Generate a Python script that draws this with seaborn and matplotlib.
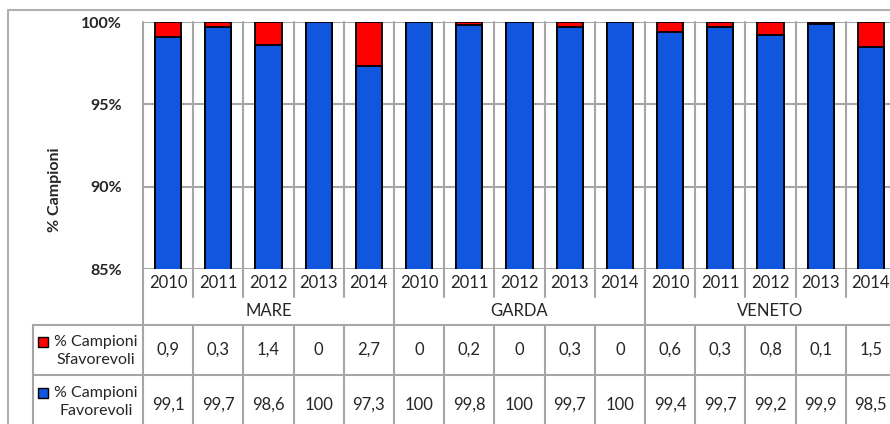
import numpy as np
import pandas as pd
import matplotlib.pyplot as plt
import seaborn as sns
from matplotlib.transforms import blended_transform_factory
from matplotlib.patches import Rectangle
from matplotlib.lines import Line2D

# Data
groups = ["MARE", "GARDA", "VENETO"]
years = ["2010", "2011", "2012", "2013", "2014"]
sfavorevoli = [0.9, 0.3, 1.4, 0, 2.7, 0, 0.2, 0, 0.3, 0, 0.6, 0.3, 0.8, 0.1, 1.5]
favorevoli = [99.1, 99.7, 98.6, 100, 97.3, 100, 99.8, 100, 99.7, 100,
              99.4, 99.7, 99.2, 99.9, 98.5]

RED = "#FF0000"
BLUE = "#1056DE"
GRID = "#A6A6A6"
FS = 12

sns.set_style("white")
plt.rcParams["font.family"] = ["Lato", "DejaVu Sans"]

keys = [f"{g} {y}" for g in groups for y in years]
df = pd.DataFrame({
    "key": keys,
    "fav": favorevoli,
    "tot": np.array(favorevoli) + np.array(sfavorevoli),
})

fig = plt.figure(figsize=(8.9, 4.24), dpi=100)
ax = fig.add_axes([143 / 890, 1 - 269 / 424, 753 / 890, 247 / 424])

# stacked bars: total (red) underneath, favorevoli (blue) on top
sns.barplot(data=df, x="key", y="tot", order=keys, color=RED, saturation=1,
            width=0.52, edgecolor="black", linewidth=1.3, ax=ax, zorder=3)
sns.barplot(data=df, x="key", y="fav", order=keys, color=BLUE, saturation=1,
            width=0.52, edgecolor="black", linewidth=1.3, ax=ax, zorder=4)

n = len(keys)
ax.set_xlim(-0.5, n - 0.5)
ax.set_ylim(85, 100)
ax.set_yticks([85, 90, 95, 100])
ax.set_yticklabels(["85%", "90%", "95%", "100%"], fontsize=11.5, fontweight="bold")
ax.tick_params(axis="y", length=0, pad=15)
ax.set_xticks([])
ax.set_xlabel("")
ax.set_ylabel("")
for s in ax.spines.values():
    s.set_visible(False)

for yv in [85, 90, 95, 100]:
    ax.axhline(yv, color=GRID, lw=1.5, zorder=1)

tr = blended_transform_factory(ax.transData, ax.transAxes)
lw = 1.5

# vertical lines: plot + year row, and data rows
for k in range(n + 1):
    xb = k - 0.5
    ax.add_line(Line2D([xb, xb], [-0.115, 1], transform=tr, color=GRID, lw=lw,
                       clip_on=False, zorder=1))
    ax.add_line(Line2D([xb, xb], [-0.227, -0.7], transform=tr, color=GRID, lw=lw,
                       clip_on=False, zorder=1))
# group separators
for xb in [-0.5, 4.5, 9.5]:
    ax.add_line(Line2D([xb, xb], [-0.115, -0.227], transform=tr, color=GRID, lw=lw,
                       clip_on=False, zorder=1))

# horizontal table lines
for yv in [-0.227, -0.429]:
    ax.add_line(Line2D([-0.146, 1.2], [yv, yv], transform=ax.transAxes, color=GRID,
                       lw=lw, clip_on=False))
ax.add_line(Line2D([-0.146, -0.146], [-0.227, -0.7], transform=ax.transAxes,
                   color=GRID, lw=lw, clip_on=False))

# year labels and group labels
for i, k in enumerate(keys):
    ax.text(i, -0.057, k.split()[1], transform=tr, ha="center", va="center",
            fontsize=FS)
for gi, g in enumerate(groups):
    ax.text(gi * 5 + 2, -0.170, g, transform=tr, ha="center", va="center",
            fontsize=FS)


def fmt(v):
    return f"{v:g}".replace(".", ",")


for i in range(n):
    ax.text(i, -0.328, fmt(sfavorevoli[i]), transform=tr, ha="center",
            va="center", fontsize=FS)
    ax.text(i, -0.55, fmt(favorevoli[i]), transform=tr, ha="center",
            va="center", fontsize=FS)

# row headers with legend keys
hx = -0.0625
for (y1, y2, label, col) in [(-0.296, -0.368, "Sfavorevoli", RED),
                             (-0.502, -0.575, "Favorevoli", BLUE)]:
    ax.text(hx, y1, "% Campioni", transform=ax.transAxes, ha="center",
            va="center", fontsize=11.5)
    ax.text(hx, y2, label, transform=ax.transAxes, ha="center",
            va="center", fontsize=11.5)
    ax.add_patch(Rectangle((-0.14, y1 - 0.02), 0.0135, 0.042,
                           transform=ax.transAxes, facecolor=col,
                           edgecolor="black", lw=1, clip_on=False))

fig.text(55 / 890, 1 - 190 / 424, "% Campioni", rotation=90, ha="center",
         va="center", fontsize=11.5, fontweight="bold")

# outer chart border
fig.add_artist(Line2D([8 / 890, 8 / 890], [1 - 10 / 424, 0], color="#B0B0B0",
                      lw=1.5, transform=fig.transFigure))
fig.add_artist(Line2D([8 / 890, 1], [1 - 10 / 424, 1 - 10 / 424], color="#B0B0B0",
                      lw=1.5, transform=fig.transFigure))

fig.savefig("out.png", dpi=100)
